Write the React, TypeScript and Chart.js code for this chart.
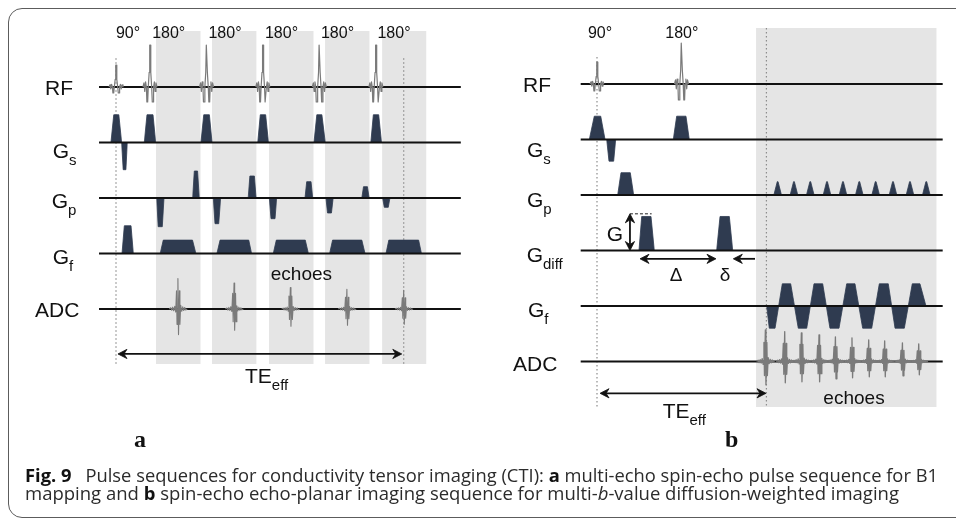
import React, { useEffect, useLayoutEffect, useRef } from "react";
import { Chart, registerables } from "chart.js";

Chart.register(...registerables);

// ---------------- layout constants (pixels) ----------------
const W = 956;
const H = 519;
const PX_ROW = 55.5; // pixels per channel row
const A_X0 = 116; // pixel of t = 0 in panel a
const A_PXU = 5.625; // pixels per time unit in panel a
const A_Y0 = 87; // pixel of first baseline in panel a
const B_X0 = 597;
const B_PXU = 8.45;
const B_Y0 = 84;

// ---------------- panel a: multi-echo spin echo ----------------
// time in arbitrary units (t = 0 at the 90° pulse); amplitude in channel-row units
const A_CHANNELS = ["RF", "Gs", "Gp", "Gf", "ADC"];
const A_RF90_T = [0];
const A_RF90_AMP = [0.396, 0.108]; // up, down
const A_RF180_T = [6.04, 16.1, 26.1, 36.15, 46.2];
const A_RF180_AMP = [0.757, 0.27];
// lobes: [start, top start, top end, end, amplitude]
const A_GS_LOBES = [
  [-0.9, -0.4, 0.5, 1.0, 0.5],
  [1.0, 1.28, 1.76, 2.0, -0.49],
  [5.03, 5.51, 6.58, 7.05, 0.5],
  [15.1, 15.6, 16.6, 17.07, 0.5],
  [25.2, 25.65, 26.6, 27.1, 0.5],
  [35.2, 35.7, 36.6, 37.2, 0.5],
  [45.3, 45.75, 46.7, 47.2, 0.5],
];
const A_GP_LOBES = [
  [7.24, 7.5, 8.23, 8.53, -0.517],
  [13.63, 13.92, 14.5, 14.8, 0.486],
  [17.3, 17.6, 18.26, 18.6, -0.463],
  [23.5, 23.8, 24.6, 24.9, 0.396],
  [27.26, 27.56, 28.27, 28.56, -0.373],
  [33.6, 33.9, 34.67, 34.97, 0.294],
  [37.33, 37.6, 38.3, 38.6, -0.27],
  [43.7, 44.0, 44.7, 45.0, 0.204],
  [47.4, 47.7, 48.4, 48.7, -0.168],
];
const A_GF_LOBES = [
  [1.07, 1.48, 2.67, 3.08, 0.5],
  [7.86, 8.4, 13.6, 14.2, 0.241],
  [17.94, 18.5, 23.6, 24.1, 0.241],
  [27.96, 28.5, 33.65, 34.2, 0.241],
  [37.98, 38.5, 43.7, 44.27, 0.241],
  [48.0, 48.5, 53.8, 54.3, 0.241],
];
const A_ECHO_T = [11.06, 21.04, 31.05, 41.1, 51.2];
const A_ECHO_UP = [0.548, 0.468, 0.386, 0.355, 0.337];
const A_ECHO_DOWN = [0.461, 0.384, 0.312, 0.294, 0.276];
const A_SHADE = [
  [7.1, 15.06],
  [17.07, 25.0],
  [27.2, 35.15],
  [37.16, 45.1],
  [47.3, 55.2],
];
const A_SHADE_V = [1.009, -4.99];
const A_AXIS_T = [-3.02, 61.3];
const A_MARKERS = [
  [0, 0.52, -4.99],
  [51.15, 0.52, -4.99],
];
const A_TE = [0.35, 50.8, -4.81];

// ---------------- panel b: spin-echo EPI with diffusion ----------------
const B_CHANNELS = ["RF", "Gs", "Gp", "Gdiff", "Gf", "ADC"];
const B_RF90_T = [0];
const B_RF90_AMP = [0.396, 0.126];
const B_RF180_T = [10];
const B_RF180_AMP = [0.739, 0.288];
const B_GS_LOBES = [
  [-0.91, -0.32, 0.44, 0.95, 0.42],
  [1.15, 1.42, 1.97, 2.21, -0.39],
  [9.03, 9.43, 10.53, 10.92, 0.42],
];
const B_GP_LOBES = [[2.45, 2.84, 3.94, 4.34, 0.402]];
const B_GP_BLIPS_T = [21.38, 23.31, 25.24, 27.22, 29.11, 31.04, 32.98, 35.03, 37.04, 38.97];
const B_GP_BLIP_AMP = 0.24;
const B_GDIFF_LOBES = [
  [4.97, 5.29, 6.39, 6.78, 0.613],
  [14.16, 14.56, 15.66, 16.06, 0.613],
];
const B_GF_EPI = [
  [20.08, 0], [20.39, -0.4], [21.07, -0.4], [21.93, 0.4], [22.92, 0.4],
  [23.82, -0.4], [24.82, -0.4], [25.68, 0.4], [26.71, 0.4], [27.57, -0.4],
  [28.64, -0.4], [29.55, 0.4], [30.53, 0.4], [31.44, -0.4], [32.51, -0.4],
  [33.41, 0.4], [34.47, 0.4], [35.27, -0.4], [36.37, -0.4], [37.31, 0.4],
  [38.22, 0.4], [38.93, 0],
];
const B_ECHO_T = [19.96, 22.25, 24.22, 26.31, 28.25, 30.21, 32.19, 34.08, 36.18, 38.11];
const B_ECHO_UP = [0.571, 0.54, 0.517, 0.481, 0.445, 0.427, 0.391, 0.373, 0.337, 0.319];
const B_ECHO_DOWN = [0.42, 0.384, 0.366, 0.366, 0.312, 0.294, 0.276, 0.276, 0.258, 0.24];
const B_SHADE = [[18.82, 40.2]];
const B_SHADE_V = [1.009, -5.82];
const B_AXIS_T = [-1.93, 40.91];
const B_MARKERS = [
  [0, 0.486, -5.82],
  [20.05, 1.009, -5.82],
];
const B_TE = [0.36, 20.0, -5.573];
const B_G_ARROW = [3.9, 0, 0.661]; // t, from amp, to amp (on Gdiff row)
const B_G_DASH = [3.9, 6.47, 0.661];
const B_DELTA_ARROW = [5.09, 14.08, -0.15];
const B_SMALL_DELTA_ARROW = [18.7, 16.13, -0.15];

// ---------------- waveform templates (pixel offset, relative amplitude) ----------------
const RF_SHAPE = [
  [-7, 0], [-6, 0.1], [-5.2, -0.3], [-4.4, 0.12], [-3.6, 0], [-3.1, -1], [-2.3, -1], [-1.7, 0],
  [-0.8, 0.35], [-0.25, 1], [0.25, 1], [0.8, 0.35], [1.7, 0], [2.3, -1], [3.1, -1], [3.6, 0],
  [4.4, 0.12], [5.2, -0.3], [6, 0.1], [7, 0],
];
const ECHO_SHAPE = [
  [-9, 0], [-7.5, 0.04], [-6.5, -0.05], [-5.5, 0.06], [-4.5, -0.07], [-3.5, 0.09], [-2.5, -0.12],
  [-1.7, 0.6], [-1.2, -0.6], [-0.3, 1], [0.3, -1], [1.2, 0.6], [1.7, -0.6], [2.5, 0.12],
  [3.5, -0.09], [4.5, 0.07], [5.5, -0.06], [6.5, 0.05], [7.5, -0.04], [9, 0],
];

// ---------------- styles ----------------
const NAVY = "#2f3b50";
const WAVE_GRAY = "#7a7a7a";
const SHADE_GRAY = "#e5e5e5";
const INK = "#111111";

type P = { x: number; y: number };

const lobe = (l: number[], base: number): P[] => [
  { x: l[0], y: base },
  { x: l[1], y: base + l[4] },
  { x: l[2], y: base + l[4] },
  { x: l[3], y: base },
];

const wave = (t: number, up: number, down: number, shape: number[][], pxu: number, base: number): P[] =>
  shape.map(([dx, a]) => ({ x: t + dx / pxu, y: base + (a >= 0 ? a * up : a * down) }));

function buildPanel(p: { xId: string; yId: string; pxu: number }) {
  const { xId, yId, pxu } = p;
  const out: any[] = [];
  const add = (data: P[], opts: any) =>
    out.push({
      data,
      xAxisID: xId,
      yAxisID: yId,
      pointRadius: 0,
      tension: 0,
      fill: false,
      borderJoinStyle: "round",
      ...opts,
    });
  const shade = (ranges: number[][], v: number[]) =>
    ranges.forEach(([t0, t1]) =>
      add(
        [
          { x: t0, y: v[0] },
          { x: t1, y: v[0] },
        ],
        { fill: { value: v[1] }, backgroundColor: SHADE_GRAY, borderWidth: 0, order: 100 }
      )
    );
  const markers = (list: number[][]) =>
    list.forEach(([t, top, bottom]) =>
      add(
        [
          { x: t, y: top },
          { x: t, y: bottom },
        ],
        { borderColor: "#8c8c8c", borderWidth: 1.2, borderDash: [1.5, 2.5], order: 90 }
      )
    );
  const baselines = (n: number, range: number[]) => {
    for (let r = 0; r < n; r++)
      add(
        [
          { x: range[0], y: -r },
          { x: range[1], y: -r },
        ],
        { borderColor: INK, borderWidth: 1.8, order: 35 }
      );
  };
  const lobes = (list: number[][], row: number) =>
    list.forEach((l) =>
      add(lobe(l, -row), {
        fill: { value: -row },
        backgroundColor: NAVY,
        borderColor: NAVY,
        borderWidth: 0.8,
        order: 40,
      })
    );
  const pulses = (ts: number[], ups: number[], downs: number[], shape: number[][], row: number, width = 1.2) =>
    ts.forEach((t, i) =>
      add(wave(t, ups[i], downs[i], shape, pxu, -row), {
        borderColor: WAVE_GRAY,
        borderWidth: width,
        order: 30,
      })
    );
  const arrow = (x0: number, y0: number, x1: number, y1: number, h0: boolean, h1: boolean) => {
    const dxp = (x1 - x0) * pxu;
    const dyp = (y1 - y0) * PX_ROW;
    const len = Math.hypot(dxp, dyp);
    const ux = dxp / len;
    const uy = dyp / len;
    const L = 9, WD = 4.6, N = 6;
    const toData = (ox: number, oy: number) => ({ dx: ox / pxu, dy: oy / PX_ROW });
    const head = (tx: number, ty: number, dx: number, dy: number) => {
      const px = -dy, py = dx;
      const b1 = toData(-L * dx + WD * px, -L * dy + WD * py);
      const nn = toData(-N * dx, -N * dy);
      const b2 = toData(-L * dx - WD * px, -L * dy - WD * py);
      add(
        [
          { x: tx, y: ty },
          { x: tx + b1.dx, y: ty + b1.dy },
          { x: tx + nn.dx, y: ty + nn.dy },
          { x: tx + b2.dx, y: ty + b2.dy },
          { x: tx, y: ty },
        ],
        { fill: "shape", backgroundColor: INK, borderColor: INK, borderWidth: 0.8, order: 20 }
      );
    };
    const s0 = h0 ? toData(N * ux, N * uy) : { dx: 0, dy: 0 };
    const s1 = h1 ? toData(-N * ux, -N * uy) : { dx: 0, dy: 0 };
    add(
      [
        { x: x0 + s0.dx, y: y0 + s0.dy },
        { x: x1 + s1.dx, y: y1 + s1.dy },
      ],
      { borderColor: INK, borderWidth: 1.8, order: 20 }
    );
    if (h1) head(x1, y1, ux, uy);
    if (h0) head(x0, y0, -ux, -uy);
  };
  return { out, add, shade, markers, baselines, lobes, pulses, arrow };
}

function buildDatasets() {
  // panel a
  const a = buildPanel({ xId: "xA", yId: "yA", pxu: A_PXU });
  a.shade(A_SHADE, A_SHADE_V);
  a.markers(A_MARKERS);
  a.baselines(A_CHANNELS.length, A_AXIS_T);
  a.lobes(A_GS_LOBES, 1);
  a.lobes(A_GP_LOBES, 2);
  a.lobes(A_GF_LOBES, 3);
  a.pulses(A_RF90_T, [A_RF90_AMP[0]], [A_RF90_AMP[1]], RF_SHAPE, 0);
  a.pulses(
    A_RF180_T,
    A_RF180_T.map(() => A_RF180_AMP[0]),
    A_RF180_T.map(() => A_RF180_AMP[1]),
    RF_SHAPE,
    0
  );
  a.pulses(A_ECHO_T, A_ECHO_UP, A_ECHO_DOWN, ECHO_SHAPE, 4, 1.1);
  a.arrow(A_TE[0], A_TE[2], A_TE[1], A_TE[2], true, true);

  // panel b
  const b = buildPanel({ xId: "xB", yId: "yB", pxu: B_PXU });
  b.shade(B_SHADE, B_SHADE_V);
  b.markers(B_MARKERS);
  b.baselines(B_CHANNELS.length, B_AXIS_T);
  b.lobes(B_GS_LOBES, 1);
  b.lobes(B_GP_LOBES, 2);
  b.lobes(
    B_GP_BLIPS_T.map((t) => [t - 3.8 / B_PXU, t - 0.4 / B_PXU, t + 0.4 / B_PXU, t + 3.8 / B_PXU, B_GP_BLIP_AMP]),
    2
  );
  b.lobes(B_GDIFF_LOBES, 3);
  b.add(
    B_GF_EPI.map(([t, v]) => ({ x: t, y: -4 + v })),
    { fill: { value: -4 }, backgroundColor: NAVY, borderColor: NAVY, borderWidth: 0.8, order: 40 }
  );
  b.pulses(B_RF90_T, [B_RF90_AMP[0]], [B_RF90_AMP[1]], RF_SHAPE, 0);
  b.pulses(B_RF180_T, [B_RF180_AMP[0]], [B_RF180_AMP[1]], RF_SHAPE, 0);
  b.pulses(B_ECHO_T, B_ECHO_UP, B_ECHO_DOWN, ECHO_SHAPE, 5, 1.3);
  b.arrow(B_TE[0], B_TE[2], B_TE[1], B_TE[2], true, true);
  b.arrow(B_G_ARROW[0], -3 + B_G_ARROW[1], B_G_ARROW[0], -3 + B_G_ARROW[2], true, true);
  b.add(
    [
      { x: B_G_DASH[0], y: -3 + B_G_DASH[2] },
      { x: B_G_DASH[1], y: -3 + B_G_DASH[2] },
    ],
    { borderColor: "#222", borderWidth: 1, borderDash: [3, 2], order: 20 }
  );
  b.arrow(B_DELTA_ARROW[0], -3 + B_DELTA_ARROW[2], B_DELTA_ARROW[1], -3 + B_DELTA_ARROW[2], true, true);
  b.arrow(
    B_SMALL_DELTA_ARROW[0],
    -3 + B_SMALL_DELTA_ARROW[2],
    B_SMALL_DELTA_ARROW[1],
    -3 + B_SMALL_DELTA_ARROW[2],
    false,
    true
  );
  return [...a.out, ...b.out];
}

// ---------------- text helpers ----------------
const SANS = '"Liberation Sans", Arial, Helvetica, sans-serif';
const SERIF = '"Liberation Serif", "Times New Roman", serif';

function Txt(props: {
  x: number;
  y: number;
  size?: number;
  align?: "center" | "left";
  children: React.ReactNode;
}) {
  const { x, y, size = 21, align = "center", children } = props;
  return (
    <div
      style={{
        position: "absolute",
        left: x,
        top: y,
        transform: `translate(${align === "center" ? "-50%" : "0"}, -50%)`,
        fontSize: size,
        lineHeight: 1,
        fontFamily: SANS,
        whiteSpace: "nowrap",
        color: INK,
      }}
    >
      {children}
    </div>
  );
}

function Sub({ children, size = 15, drop = 7 }: { children: React.ReactNode; size?: number; drop?: number }) {
  return <span style={{ fontSize: size, position: "relative", top: drop }}>{children}</span>;
}

function PanelLetter({ x, baseline, children }: { x: number; baseline: number; children: React.ReactNode }) {
  return (
    <div
      style={{
        position: "absolute",
        left: x,
        top: baseline - 20.1,
        transform: "translateX(-50%)",
        fontFamily: SERIF,
        fontWeight: 700,
        fontSize: 24,
        lineHeight: 1,
        color: INK,
      }}
    >
      {children}
    </div>
  );
}

function FitLine({ left, top, width, children }: { left: number; top: number; width: number; children: React.ReactNode }) {
  const ref = useRef<HTMLDivElement>(null);
  useLayoutEffect(() => {
    const fit = () => {
      const el = ref.current;
      if (!el) return;
      el.style.transform = "none";
      const w = el.getBoundingClientRect().width;
      if (w > 0) el.style.transform = `scaleX(${width / w})`;
    };
    fit();
    if ((document as any).fonts && (document as any).fonts.ready) (document as any).fonts.ready.then(fit);
  });
  return (
    <div
      ref={ref}
      style={{
        position: "absolute",
        left,
        top,
        whiteSpace: "nowrap",
        fontFamily: '"Open Sans", "Noto Sans", sans-serif',
        fontSize: 17.5,
        lineHeight: 1,
        color: "#2b2b2b",
        transformOrigin: "0 50%",
      }}
    >
      {children}
    </div>
  );
}

export default function App() {
  const canvasRef = useRef<HTMLCanvasElement>(null);

  useEffect(() => {
    if (!canvasRef.current) return;
    const chart = new Chart(canvasRef.current, {
      type: "line",
      data: { datasets: buildDatasets() },
      options: {
        responsive: false,
        maintainAspectRatio: false,
        animation: false,
        devicePixelRatio: 1,
        events: [],
        layout: { padding: 0 },
        plugins: {
          legend: { display: false },
          tooltip: { enabled: false },
        },
        elements: {
          point: { radius: 0, hoverRadius: 0 },
          line: { tension: 0 },
        },
        scales: {
          xA: { type: "linear", axis: "x", display: false, bounds: "data", min: -A_X0 / A_PXU, max: (W - A_X0) / A_PXU },
          yA: { type: "linear", axis: "y", display: false, bounds: "data", min: (A_Y0 - H) / PX_ROW, max: A_Y0 / PX_ROW },
          xB: { type: "linear", axis: "x", display: false, bounds: "data", min: -B_X0 / B_PXU, max: (W - B_X0) / B_PXU },
          yB: { type: "linear", axis: "y", display: false, bounds: "data", min: (B_Y0 - H) / PX_ROW, max: B_Y0 / PX_ROW },
        },
      } as any,
    });
    return () => chart.destroy();
  }, []);

  return (
    <div
      style={{
        position: "absolute",
        left: 0,
        top: 0,
        width: W,
        height: H,
        overflow: "hidden",
        background: "#ffffff",
      }}
    >
      <div
        style={{
          position: "absolute",
          left: 8,
          top: 8,
          width: 1000,
          height: 510,
          boxSizing: "border-box",
          border: "1.5px solid #5c5c5c",
          borderRadius: 14,
        }}
      />
      <canvas ref={canvasRef} width={W} height={H} style={{ position: "absolute", left: 0, top: 0, width: W, height: H }} />

      {/* panel a texts */}
      <Txt x={128} y={33} size={16}>90°</Txt>
      <Txt x={168.7} y={33} size={16}>180°</Txt>
      <Txt x={225} y={33} size={16}>180°</Txt>
      <Txt x={281.5} y={33} size={16}>180°</Txt>
      <Txt x={337.5} y={33} size={16}>180°</Txt>
      <Txt x={394} y={33} size={16}>180°</Txt>
      <Txt x={45} y={87} align="left">RF</Txt>
      <Txt x={52.7} y={150} align="left">G<Sub>s</Sub></Txt>
      <Txt x={51.7} y={200} align="left">G<Sub>p</Sub></Txt>
      <Txt x={52.7} y={255.5} align="left">G<Sub>f</Sub></Txt>
      <Txt x={35} y={309} align="left">ADC</Txt>
      <Txt x={301.4} y={273.3} size={19}>echoes</Txt>
      <Txt x={245} y={375} align="left">TE<Sub>eff</Sub></Txt>
      <PanelLetter x={140} baseline={446.7}>a</PanelLetter>

      {/* panel b texts */}
      <Txt x={600} y={33} size={16}>90°</Txt>
      <Txt x={681.8} y={33} size={16}>180°</Txt>
      <Txt x={523} y={84} align="left">RF</Txt>
      <Txt x={527} y={149} align="left">G<Sub>s</Sub></Txt>
      <Txt x={527} y={199} align="left">G<Sub>p</Sub></Txt>
      <Txt x={526.7} y={254} align="left">G<Sub>diff</Sub></Txt>
      <Txt x={528} y={309} align="left">G<Sub>f</Sub></Txt>
      <Txt x={513} y={363} align="left">ADC</Txt>
      <Txt x={615} y={233}>G</Txt>
      <Txt x={676} y={274} size={19}>Δ</Txt>
      <Txt x={725} y={274} size={19}>δ</Txt>
      <Txt x={854} y={396.7} size={19}>echoes</Txt>
      <Txt x={662.7} y={410} align="left">TE<Sub>eff</Sub></Txt>
      <PanelLetter x={731.8} baseline={446.7}>b</PanelLetter>

      {/* caption */}
      <FitLine left={25} top={466.5} width={913}>
        <b style={{ color: "#111" }}>Fig. 9</b>
        {"\u2002 Pulse sequences for conductivity tensor imaging (CTI): "}
        <b style={{ color: "#111" }}>a</b>
        {" multi-echo spin-echo pulse sequence for B1"}
      </FitLine>
      <FitLine left={25} top={484.5} width={874}>
        {"mapping and "}
        <b style={{ color: "#111" }}>b</b>
        {" spin-echo echo-planar imaging sequence for multi-"}
        <i>b</i>
        {"-value diffusion-weighted imaging"}
      </FitLine>
    </div>
  );
}
